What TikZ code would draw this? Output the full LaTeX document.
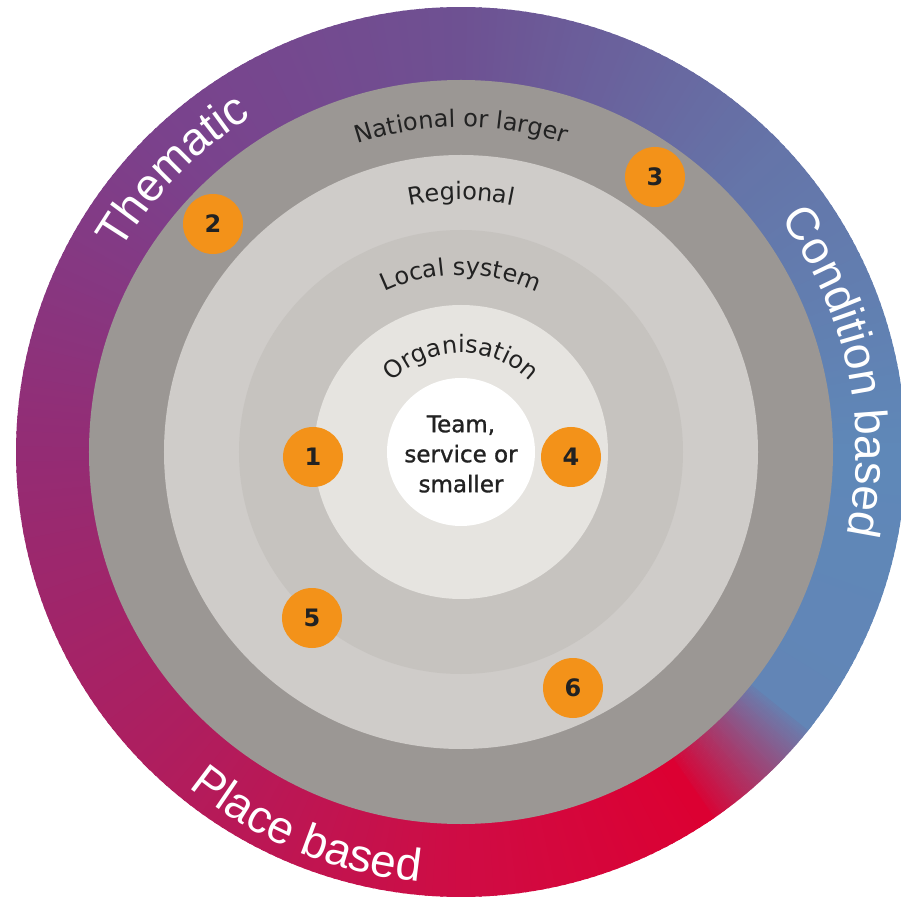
\documentclass[tikz,border=0pt]{standalone}
\usepackage{fontspec}
\usetikzlibrary{decorations.text}

\newfontfamily\rimfamily{Liberation Sans}
\newfontfamily\ringfamily{DejaVu Sans}
\newfontfamily\teamfamily{DejaVu Sans}[BoldFont=DejaVu Sans, BoldFeatures={FakeBold=1.2}]
\newcommand\rimfont{\rimfamily\fontsize{46}{50}\selectfont}
\newcommand\ringfont{\ringfamily\fontsize{24}{28}\selectfont}

% colours of the outer rim, going round anticlockwise
\definecolor{rimred}{HTML}{DC0032}
\definecolor{rimblue}{HTML}{6285B6}
\definecolor{rimeast}{HTML}{5F88B8}
\definecolor{rimne}{HTML}{6574A8}
\definecolor{rimtop}{HTML}{6E5192}
\definecolor{rimnw}{HTML}{7B418C}
\definecolor{rimwest}{HTML}{942C74}
\definecolor{rimsw}{HTML}{AE1E5F}
\definecolor{rimsouth}{HTML}{CF0C44}
% the rings
\definecolor{national}{HTML}{9B9794}
\definecolor{regional}{HTML}{CFCCC9}
\definecolor{localsys}{HTML}{C6C3BF}
\definecolor{organisation}{HTML}{E6E4E0}
\definecolor{badgeorange}{HTML}{F39219}
\definecolor{ink}{HTML}{222222}

\tikzset{
  badge/.style={circle, fill=badgeorange, text=ink, minimum size=60pt, inner sep=0pt,
    font=\ringfamily\bfseries\fontsize{24}{24}\selectfont},
  rimlabel/.style={decorate, decoration={text along path, text align=center,
    text color=white, text={|\rimfont|#1}}},
  ringlabel/.style={decorate, decoration={text along path, text align=center,
    text color=ink, text={|\ringfont|#1}}}
}

\begin{document}
\begin{tikzpicture}[x=1pt, y=1pt]
  \useasboundingbox (-461,-444) rectangle (440,452);
  \clip (-461,-444) rectangle (440,452);

  % rim: thin wedges, colour blended between the stops
  \foreach \from/\to/\cfrom/\cto/\dk in {-56/-38/rimred/rimblue/0.2, -38/0/rimblue/rimeast/1,
                                         0/45/rimeast/rimne/1, 45/90/rimne/rimtop/1,
                                         90/135/rimtop/rimnw/1, 135/180/rimnw/rimwest/1,
                                         180/225/rimwest/rimsw/1, 225/270/rimsw/rimsouth/1,
                                         270/304/rimsouth/rimred/1} {
    \pgfmathsetmacro\nxt{\from+\dk}
    \pgfmathsetmacro\hw{0.7*\dk}
    \foreach \k in {\from,\nxt,...,\to} {
      \pgfmathtruncatemacro\p{100*(\k-\from)/(\to-\from)}
      \colorlet{wedge}{\cto!\p!\cfrom}
      \fill[wedge] (0,0) -- (\k-\hw:445pt)
        arc[start angle=\k-\hw, end angle=\k+\hw, radius=445pt] -- cycle;
    }
  }

  \fill[national] (0,0) circle[radius=372pt];
  \fill[regional] (0,0) circle[radius=297pt];
  \fill[localsys] (0,0) circle[radius=222pt];
  \fill[organisation] (0,0) circle[radius=147pt];
  \fill[white] (0,0) circle[radius=74pt];

  \path[rimlabel=Thematic] (175.7:395pt) arc[start angle=175.7, end angle=95.7, radius=395pt];
  \path[rimlabel=Condition based] (62:395pt) arc[start angle=62, end angle=-38, radius=395pt];
  \path[rimlabel=Place based] (197.7:432pt) arc[start angle=197.7, end angle=297.7, radius=432pt];

  \path[ringlabel=National or larger] (160:325pt) arc[start angle=160, end angle=20, radius=325pt];
  \path[ringlabel=Regional] (160:252pt) arc[start angle=160, end angle=20, radius=252pt];
  \path[ringlabel=Local system] (170:177pt) arc[start angle=170, end angle=10, radius=177pt];
  \path[ringlabel=Organisation] (175:99pt) arc[start angle=175, end angle=5, radius=99pt];

  \node[font=\teamfamily\bfseries\fontsize{23}{30}\selectfont, text=ink, align=center] (team)
    at (0,-2) {Team,\\service or\\smaller};

  \foreach \i/\x/\y in {1/-148/-5, 2/-248/228, 3/194/275,
                        4/110/-5, 5/-149/-166, 6/112/-236} {
    \node[badge] (b\i) at (\x,\y) {\i};
  }
\end{tikzpicture}
\end{document}
